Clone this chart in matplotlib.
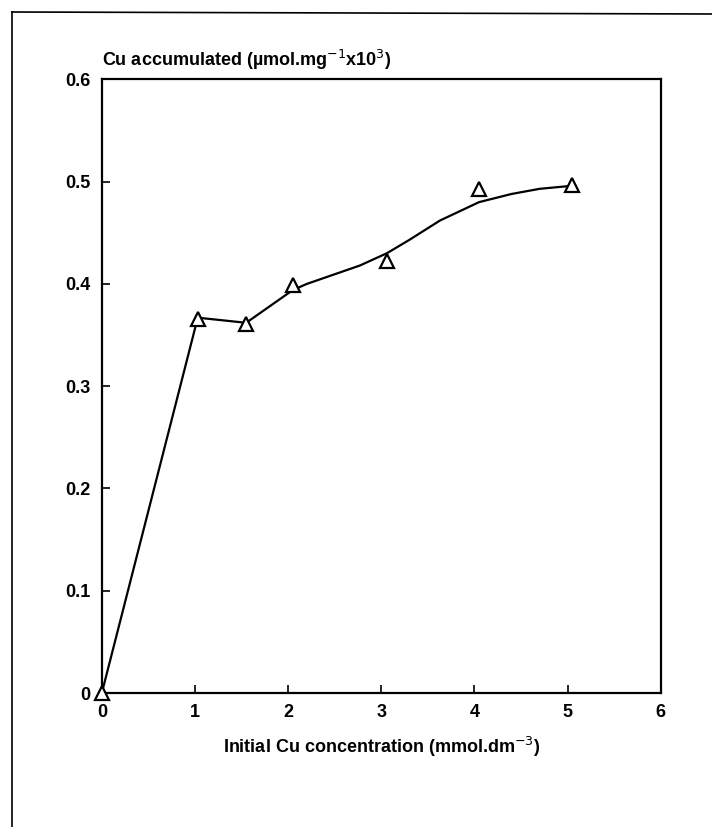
import matplotlib.pyplot as plt
from matplotlib.lines import Line2D

plt.rcParams["font.family"] = ["Liberation Sans", "DejaVu Sans"]

# measured points (initial Cu, mmol/dm3 -> Cu accumulated)
conc = [0.0, 1.03, 1.55, 2.05, 3.06, 4.05, 5.05]
accum = [0.0, 0.366, 0.361, 0.399, 0.422, 0.493, 0.497]

# drawn line (straight segments then smooth fit)
line_x = [0.0, 1.03, 1.55, 2.05, 2.2, 2.77, 3.06, 3.3, 3.63, 4.05, 4.4, 4.7, 5.05]
line_y = [0.0, 0.367, 0.362, 0.394, 0.400, 0.418, 0.430, 0.443, 0.462, 0.480,
          0.488, 0.493, 0.496]

xticks = [0, 1, 2, 3, 4, 5, 6]
yticks = [0, 0.1, 0.2, 0.3, 0.4, 0.5, 0.6]
ytick_labels = ["0", "0.1", "0.2", "0.3", "0.4", "0.5", "0.6"]

fig = plt.figure(figsize=(7.12, 8.27), dpi=100)
ax = fig.add_axes([0.143, 0.162, 0.785, 0.742])

ax.plot(line_x, line_y, color="black", lw=1.6, zorder=2)
ax.plot(conc, accum, linestyle="none", marker="^", markersize=10,
        markerfacecolor="white", markeredgecolor="black", markeredgewidth=1.6,
        clip_on=False, zorder=3)

ax.set_xlim(0, 6)
ax.set_ylim(0, 0.6)
ax.set_xticks(xticks)
ax.set_yticks(yticks)
ax.set_yticklabels(ytick_labels)
ax.tick_params(direction="in", length=6, width=1.2, top=False, right=False,
               labelsize=13, pad=8)
for lab in ax.get_xticklabels() + ax.get_yticklabels():
    lab.set_fontweight("bold")
for s in ax.spines.values():
    s.set_linewidth(1.6)

ax.set_xlabel("Initial Cu concentration (mmol.dm$^{-3}$)", fontsize=13,
              fontweight="bold", labelpad=10)
ax.text(0.0, 1.012, "Cu accumulated (\u00b5mol.mg$^{-1}$x10$^{3}$)",
        transform=ax.transAxes, fontsize=13, fontweight="bold",
        ha="left", va="bottom")

# page frame from the scan
fig.add_artist(Line2D([12 / 712, 12 / 712], [1 - 12 / 827, 0.0],
                      transform=fig.transFigure, color="black", lw=1.2))
fig.add_artist(Line2D([12 / 712, 1.0], [1 - 12 / 827, 1 - 14 / 827],
                      transform=fig.transFigure, color="black", lw=1.2))

fig.savefig("out.png", dpi=100)
